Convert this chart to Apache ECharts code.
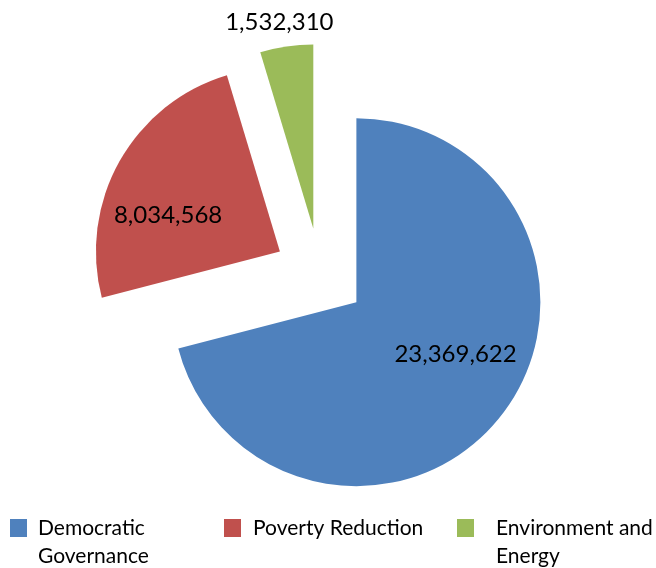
<!DOCTYPE html>
<html>
<head>
<meta charset="utf-8">
<script src="https://cdn.jsdelivr.net/npm/echarts@6/dist/echarts.min.js"></script>
<style>
html, body { margin: 0; padding: 0; background: #fff; }
#chart { width: 656px; height: 568px; }
</style>
</head>
<body>
<div id="chart"></div>
<script>
// data
var names = ['Democratic Governance', 'Poverty Reduction', 'Environment and Energy'];
var values = [23369622, 8034568, 1532310];
var colors = ['#4F81BD', '#C0504D', '#9BBB59'];
var legendText = ['Democratic\nGovernance', 'Poverty Reduction', 'Environment and\nEnergy'];

var FONT = 'Lato';
var chart = echarts.init(document.getElementById('chart'));

// nudge labels to where excel put them
var labelNudge = [[24, -6], [-29, 10], [52, -24]];

var legendLeft = [5, 219, 452];
var legendPadLeft = [6, 7, 17];

var legends = names.map(function (n, i) {
    var wrapped = legendText[i].indexOf('\n') >= 0;
    // wrapped names get an empty first line so the first real line sits next to the icon
    var txt = wrapped ? '\n' + legendText[i] : legendText[i];
    return {
        left: legendLeft[i],
        top: wrapped ? 472 : 500,
        orient: 'horizontal',
        icon: 'rect',
        itemWidth: 17,
        itemHeight: 18,
        selectedMode: false,
        formatter: function () { return txt; },
        textStyle: {
            fontFamily: FONT,
            fontSize: 21,
            lineHeight: 28,
            color: '#000',
            padding: [18, 0, 0, legendPadLeft[i]]
        },
        data: [n]
    };
});

var option = {
    animation: false,
    color: colors,
    legend: legends,
    series: [{
        type: 'pie',
        center: [320, 274],
        radius: 184,
        startAngle: 90,
        clockwise: true,
        selectedMode: 'multiple',
        selectedOffset: 46,
        emphasis: { disabled: true },
        label: {
            position: 'inside',
            fontFamily: FONT,
            fontSize: 24,
            color: '#000',
            formatter: function (p) { return p.value.toLocaleString('en-US'); }
        },
        labelLine: { show: false },
        labelLayout: function (p) {
            var d = labelNudge[p.dataIndex];
            return { dx: d[0], dy: d[1] };
        },
        data: names.map(function (n, i) {
            var item = { name: n, value: values[i], selected: true };
            if (i === 2) {
                item.label = { position: 'outside' };
                item.labelLine = { show: false, length: 0, length2: 0 };
            }
            return item;
        })
    }]
};

chart.setOption(option);
</script>
</body>
</html>
